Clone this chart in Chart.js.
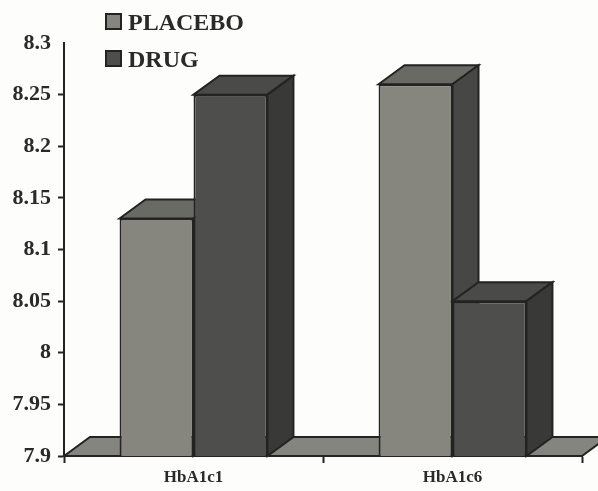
<!DOCTYPE html>
<html>
<head>
<meta charset="utf-8">
<script src="https://cdn.jsdelivr.net/npm/chart.js@4"></script>
<style>
    html, body { margin: 0; padding: 0; background: #fdfdfb; }
    canvas { display: block; }
</style>
</head>
<body>
<canvas id="chartHba" width="598" height="491"></canvas>
<script>
const categories = ["HbA1c1", "HbA1c6"];
const placebo = [8.13, 8.26];
const drug = [8.25, 8.05];
const tickLabels = ["7.9", "7.95", "8", "8.05", "8.1", "8.15", "8.2", "8.25", "8.3"];

const ink = "#232323";
const textColor = "#2a2a2a";
const depthX = 26;
const depthY = 19;

function face(ctx, points, fill) {
    ctx.beginPath();
    points.forEach((p, i) => i ? ctx.lineTo(p[0], p[1]) : ctx.moveTo(p[0], p[1]));
    ctx.closePath();
    ctx.fillStyle = fill;
    ctx.fill();
    ctx.lineWidth = 2;
    ctx.strokeStyle = ink;
    ctx.stroke();
}

// Chart.js has no 3D bars, the floor, tops and sides are drawn from the bar elements
const bars3d = {
    id: "bars3d",
    beforeDatasetsDraw(chart) {
        const ctx = chart.ctx;
        const { left, right, bottom } = chart.chartArea;
        ctx.save();
        face(ctx, [[left, bottom], [left + depthX, bottom - depthY], [right + depthX, bottom - depthY], [right, bottom]], "#85857f");

        const tops = ["#6a6a64", "#4a4a48"];
        const sides = ["#474745", "#393937"];
        categories.forEach((c, i) => {
            chart.data.datasets.forEach((ds, d) => {
                const bar = chart.getDatasetMeta(d).data[i];
                const l = bar.x - bar.width / 2;
                const r = bar.x + bar.width / 2;
                face(ctx, [[l, bar.y], [l + depthX, bar.y - depthY], [r + depthX, bar.y - depthY], [r, bar.y]], tops[d]);
                face(ctx, [[r, bar.y], [r + depthX, bar.y - depthY], [r + depthX, bottom - depthY], [r, bottom]], sides[d]);
            });
        });
        ctx.restore();
    },
    afterDraw(chart) {
        // legend sits above the plot, half outside the chart area
        const ctx = chart.ctx;
        ctx.save();
        ctx.font = "bold 24px 'Liberation Serif'";
        ctx.textBaseline = "alphabetic";
        chart.data.datasets.forEach((ds, d) => {
            const y = 14 + d * 37;
            ctx.fillStyle = ds.backgroundColor;
            ctx.strokeStyle = ink;
            ctx.lineWidth = 2;
            ctx.fillRect(106, y, 15, 15);
            ctx.strokeRect(106, y, 15, 15);
            ctx.fillStyle = textColor;
            ctx.fillText(ds.label, 128, y + 16);
        });
        ctx.restore();
    }
};

new Chart(document.getElementById("chartHba"), {
    type: "bar",
    plugins: [bars3d],
    data: {
        labels: categories,
        datasets: [
            { label: "PLACEBO", data: placebo, backgroundColor: "#86867e", borderColor: ink, borderWidth: 2 },
            { label: "DRUG", data: drug, backgroundColor: "#4e4e4c", borderColor: ink, borderWidth: 2 }
        ]
    },
    options: {
        responsive: false,
        animation: false,
        layout: { padding: { top: 43, right: 16, left: 0, bottom: 0 } },
        plugins: {
            legend: { display: false },
            tooltip: { enabled: false }
        },
        datasets: { bar: { barPercentage: 1, categoryPercentage: 0.571 } },
        scales: {
            y: {
                min: 7.9,
                max: 8.3,
                afterFit: s => { s.width = 64; },
                ticks: {
                    stepSize: 0.05,
                    autoSkip: false,
                    padding: 7,
                    color: textColor,
                    font: { family: "'Liberation Serif'", size: 22, weight: "bold" },
                    callback: (v, i) => tickLabels[i]
                },
                grid: {
                    drawOnChartArea: false,
                    tickLength: 6,
                    tickWidth: 2,
                    tickColor: c => c.index === tickLabels.length - 1 ? "transparent" : ink
                },
                border: { color: ink, width: 2 }
            },
            x: {
                afterFit: s => { s.height = 35; },
                ticks: {
                    padding: 4,
                    color: textColor,
                    font: { family: "'Liberation Serif'", size: 17, weight: "bold" }
                },
                grid: { drawOnChartArea: false, tickLength: 7, tickWidth: 2, tickColor: ink },
                border: { color: ink, width: 2 }
            }
        }
    }
});
</script>
</body>
</html>
